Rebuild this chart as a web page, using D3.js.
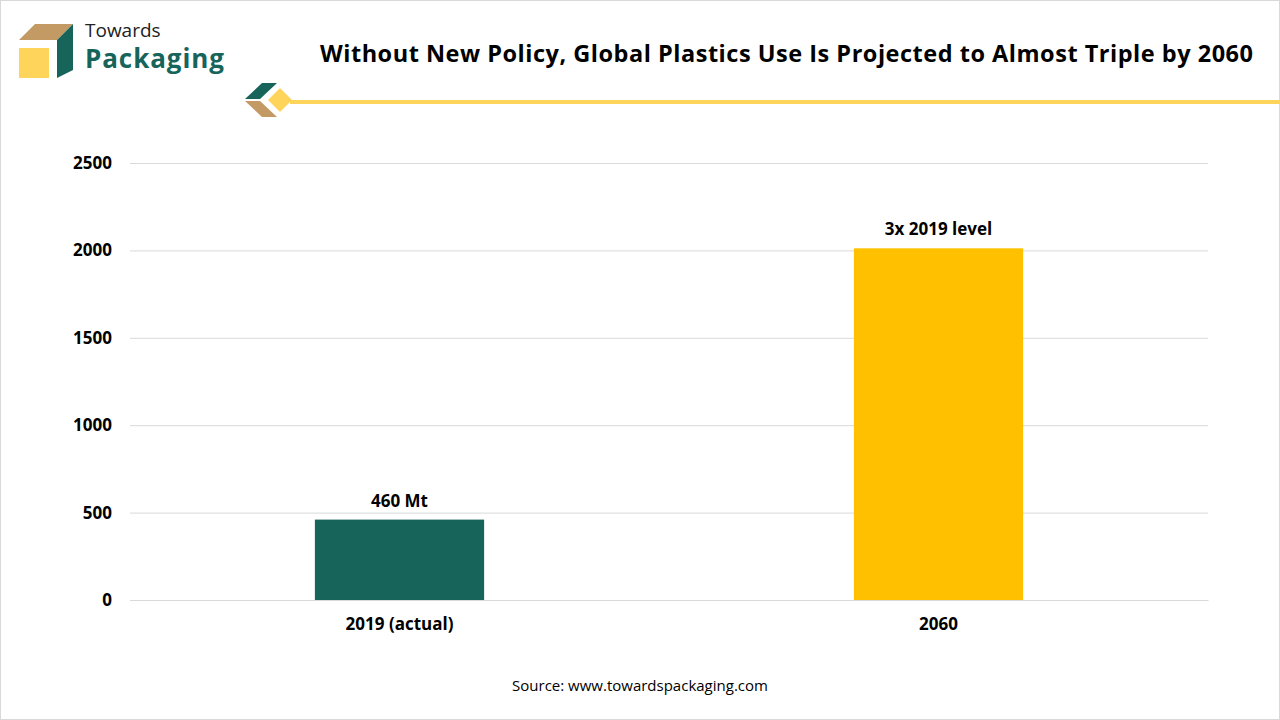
<!DOCTYPE html>
<html><head><meta charset="utf-8">
<script src="https://cdn.jsdelivr.net/npm/d3@7"></script>
<style>body{margin:0;background:#fff;font-family:"Open Sans",sans-serif}</style>
</head><body>
<div id="chart"></div>
<script>
var categories = ["2019 (actual)", "2060"];
var values = [460, 2012];
var labels = ["460 Mt", "3x 2019 level"];
var colors = ["#17645a", "#ffc000"];
var ticks = [0, 500, 1000, 1500, 2000, 2500];

var svg = d3.select("#chart").append("svg").attr("width", 1280).attr("height", 720)
  .attr("font-family", "'Open Sans', sans-serif");

// frame
svg.append("rect").attr("x", 0.5).attr("y", 0.5).attr("width", 1279).attr("height", 719)
  .attr("fill", "none").attr("stroke", "#d9d9d9");

// logo
svg.append("polygon").attr("points", "19,40 35,24 73,24 57,40").attr("fill", "#c49a64");
svg.append("rect").attr("x", 19).attr("y", 48).attr("width", 30).attr("height", 30).attr("fill", "#ffd45a");
svg.append("polygon").attr("points", "57,40 73,24 73,70 57,78").attr("fill", "#17645a");
svg.append("text").attr("x", 85).attr("y", 37).attr("font-size", 19).attr("fill", "#222").text("Towards");
svg.append("text").attr("x", 85).attr("y", 68).attr("font-size", 26).attr("font-weight", "bold")
  .attr("fill", "#17645a").attr("textLength", 139).text("Packaging");

// decoration
svg.append("polygon").attr("points", "245,99 262,83 277,83 260,99").attr("fill", "#17645a");
svg.append("polygon").attr("points", "245,101 260,101 277,117 262,117").attr("fill", "#c49a64");
svg.append("polygon").attr("points", "268,100 280,88 292,100 280,112").attr("fill", "#ffd45a");
svg.append("rect").attr("x", 290).attr("y", 100).attr("width", 990).attr("height", 4).attr("fill", "#ffd45a");

svg.append("text").attr("x", 320).attr("y", 62)
  .attr("font-size", 23.5).attr("font-weight", "bold").attr("fill", "#000")
  .attr("textLength", 933)
  .text("Without New Policy, Global Plastics Use Is Projected to Almost Triple by 2060");

var x = d3.scaleBand().domain(categories).range([130, 1208]).paddingInner(0.686).paddingOuter(0.343);
var y = d3.scaleLinear().domain([0, 2500]).range([600, 163]);

var yAxis = svg.append("g").attr("transform", "translate(130,0)")
  .call(d3.axisLeft(y).tickValues(ticks).tickFormat(d3.format("d")).tickSize(-1078).tickPadding(18));
yAxis.select(".domain").remove();
yAxis.selectAll("line").attr("stroke", "#d9d9d9");
yAxis.selectAll("text").attr("font-size", 17).attr("font-weight", "bold").attr("fill", "#000")
  .attr("font-family", "'Open Sans', sans-serif");

var xAxis = svg.append("g").attr("transform", "translate(0,600)")
  .call(d3.axisBottom(x).tickSize(0).tickPadding(18));
xAxis.select(".domain").attr("stroke", "#d9d9d9");
xAxis.selectAll("text").attr("font-size", 17).attr("font-weight", "bold").attr("fill", "#000")
  .attr("font-family", "'Open Sans', sans-serif");

svg.selectAll(".bar").data(values).enter().append("rect")
  .attr("x", function(d, i) { return x(categories[i]); })
  .attr("y", function(d) { return y(d); })
  .attr("width", x.bandwidth())
  .attr("height", function(d) { return y(0) - y(d); })
  .attr("fill", function(d, i) { return colors[i]; });

svg.selectAll(".lbl").data(values).enter().append("text")
  .attr("x", function(d, i) { return x(categories[i]) + x.bandwidth() / 2; })
  .attr("y", function(d) { return y(d) - 13; })
  .attr("text-anchor", "middle").attr("font-size", 17).attr("font-weight", "bold")
  .text(function(d, i) { return labels[i]; });

svg.append("text").attr("x", 640).attr("y", 691).attr("text-anchor", "middle")
  .attr("font-size", 15).attr("fill", "#000").text("Source: www.towardspackaging.com");
</script>
</body></html>
